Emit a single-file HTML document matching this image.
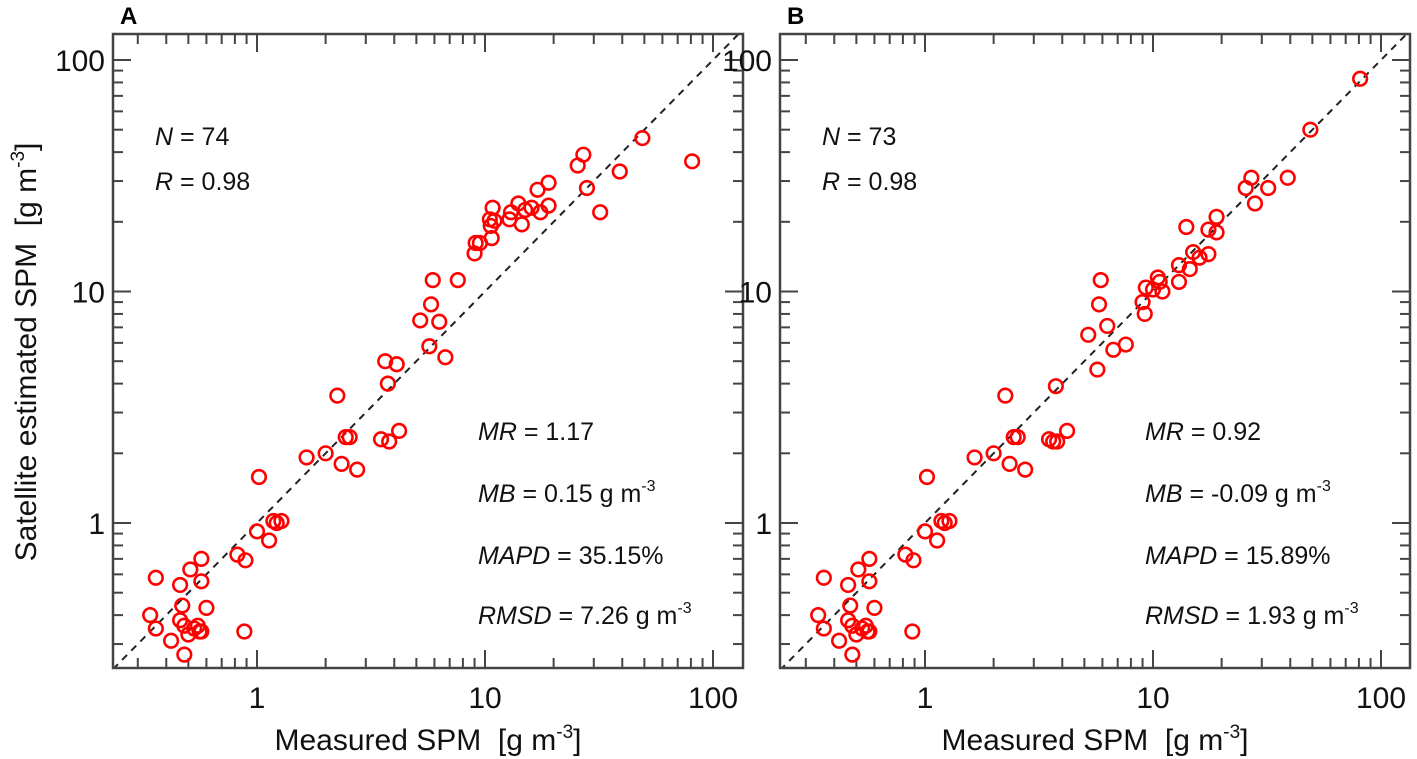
<!DOCTYPE html>
<html><head><meta charset="utf-8"><style>
body{margin:0;background:#fff;}
svg{display:block;font-family:"Liberation Sans",Arial,sans-serif;}
</style></head><body>
<svg id="chart" width="1417" height="759" viewBox="0 0 1417 759" xmlns="http://www.w3.org/2000/svg"></svg>
<script>
const aX=[0.34,0.36,0.36,0.42,0.46,0.46,0.47,0.48,0.48,0.5,0.51,0.53,0.55,0.56,0.57,0.57,0.6,0.57,0.82,0.88,0.89,1.0,1.02,1.13,1.18,1.22,1.28,
1.65,2.0,2.25,2.35,2.45,2.55,2.75,3.5,3.65,3.75,3.8,4.1,4.2,5.2,5.7,5.8,5.9,6.3,6.7,7.6,9.0,9.1,9.5,10.5,10.6,10.7,10.8,11,12.8,13,14,14.5,15,16,17,17.5,19,19,25.5,27,28,32,39,49,81];
const aY=[0.40,0.35,0.58,0.31,0.54,0.38,0.44,0.36,0.27,0.33,0.63,0.35,0.36,0.34,0.70,0.56,0.43,0.34,0.73,0.34,0.69,0.92,1.58,0.84,1.02,1.0,1.02,
1.92,2.0,3.55,1.8,2.35,2.35,1.7,2.3,5.0,4.0,2.25,4.85,2.5,7.5,5.8,8.8,11.2,7.4,5.2,11.2,14.6,16.2,16.2,20.5,19.2,17.0,23.0,20.2,20.5,22,24,19.5,22.5,23,27.5,22,23.5,29.5,35,39,28,22,33,46,36.5];
const bX=[0.34,0.36,0.36,0.42,0.46,0.46,0.47,0.48,0.48,0.5,0.51,0.53,0.55,0.56,0.57,0.57,0.6,0.57,0.82,0.88,0.89,1.0,1.02,1.13,1.18,1.22,1.28,
1.65,2.0,2.25,2.35,2.45,2.55,2.75,3.5,3.65,3.75,3.8,4.2,5.2,5.7,5.8,5.9,6.3,6.7,7.6,9.0,9.2,9.3,10,10.5,10.7,11,13,13,14,14.5,15,16,17.5,17.5,19,19,25.5,27,28,32,39,49,81];
const bY=[0.40,0.35,0.58,0.31,0.54,0.38,0.44,0.36,0.27,0.33,0.63,0.35,0.36,0.34,0.70,0.56,0.43,0.34,0.73,0.34,0.69,0.92,1.58,0.84,1.02,1.0,1.02,
1.92,2.0,3.55,1.8,2.35,2.35,1.7,2.3,2.25,3.9,2.25,2.5,6.5,4.6,8.8,11.2,7.1,5.6,5.9,9.0,8.0,10.4,10.2,11.5,11,10,11,13,19,12.5,14.8,14,18.5,14.5,21,18,28,31,24,28,31,50,83];
const majorTicks=[1,10,100];
const tickLabels=["1","10","100"];
const statsA=["= 74","= 0.98","= 1.17","= 0.15 g m","= 35.15%","= 7.26 g m"];
const statsB=["= 73","= 0.98","= 0.92","= -0.09 g m","= 15.89%","= 1.93 g m"];

const svg=document.getElementById('chart');
const NS='http://www.w3.org/2000/svg';
function mk(tag,attrs,parent){const e=document.createElementNS(NS,tag);for(const k in attrs)e.setAttribute(k,attrs[k]);(parent||svg).appendChild(e);return e;}

function panel(id,L,R,T,B,xs,ys,stats,letter,x1px,y1px,dec){
  const g=mk('g',{});
  
  
  const sx=v=>x1px+Math.log10(v)*dec;
  const sy=v=>y1px-Math.log10(v)*231.5;
  const lo=Math.pow(10,(L-x1px)/dec), hi=Math.pow(10,(R-x1px)/dec);
  const cp=mk('clipPath',{id:'clip'+id},g);mk('rect',{x:L,y:T,width:R-L,height:B-T},cp);
  const dl=mk('line',{x1:sx(lo),y1:sy(lo),x2:sx(hi),y2:sy(hi),stroke:'#222','stroke-width':2,'stroke-dasharray':'7,6','clip-path':'url(#clip'+id+')'},g);
  
  
  for(let e=-1;e<=2;e++){for(let m=1;m<=9;m++){const v=m*Math.pow(10,e);const len=m===1?18:10;
    const px=sx(v); if(px>L+1&&px<R-1){mk('line',{x1:px,y1:B,x2:px,y2:B-len,stroke:'#444','stroke-width':2},g);mk('line',{x1:px,y1:T,x2:px,y2:T+len,stroke:'#444','stroke-width':2},g);}
    const py=sy(v); if(py>T+1&&py<B-1){mk('line',{x1:L,y1:py,x2:L+len,y2:py,stroke:'#444','stroke-width':2},g);mk('line',{x1:R,y1:py,x2:R-len,y2:py,stroke:'#444','stroke-width':2},g);}
  }}
  const box=mk('rect',{x:L,y:T,width:R-L,height:B-T,fill:'none',stroke:'#444','stroke-width':2.5},g);
  
  
  majorTicks.forEach((v,i)=>{
    const t=mk('text',{x:sx(v),y:B+40,'text-anchor':'middle','font-size':30,fill:'#111'},g);t.textContent=tickLabels[i];
    
    
    const u=mk('text',{x:L-8,y:sy(v)+11,'text-anchor':'end','font-size':30,fill:'#111'},g);u.textContent=tickLabels[i];
    
    
  });
  xs.forEach((x,i)=>{
    const c=mk('circle',{cx:sx(x),cy:sy(ys[i]),r:6.8,fill:'none',stroke:'#f00','stroke-width':2.6},g);
    
    
  });
  const lt=mk('text',{x:L+7,y:24,'font-size':24,'font-weight':'bold',fill:'#000'},g);lt.textContent=letter;
  
  
  const names=['N','R','MR','MB','MAPD','RMSD'];
  const pos=[[L+42,145],[L+42,190],[L+365,440],[L+365,502],[L+365,564],[L+365,624]];
  names.forEach((n,i)=>{
    const t=mk('text',{x:pos[i][0],y:pos[i][1],'font-size':25,fill:'#111'},g);
    
    
    const a=mk('tspan',{'font-style':'italic'},t);a.textContent=n;
    const b=mk('tspan',{},t);b.textContent='\u00a0'+stats[i];
    if(i===3||i===5){const s=mk('tspan',{dy:-11,'font-size':16},t);s.textContent='-3';}
  });
  const xt=mk('text',{x:(L+R)/2,y:750,'text-anchor':'middle','font-size':30,fill:'#111'},g);
  
  
  const t1=mk('tspan',{},xt);t1.textContent='Measured SPM\u00a0\u00a0[g m';
  const t2=mk('tspan',{dy:-12,'font-size':19},xt);t2.textContent='-3';
  const t3=mk('tspan',{dy:12},xt);t3.textContent=']';
}
panel('a',113,743,34,668,aX,aY,statsA,'A',257,523,228);
panel('b',780,1410,34,668,bX,bY,statsB,'B',925,523,228);
const yt=mk('text',{x:0,y:0,'text-anchor':'middle','font-size':30,fill:'#111',transform:'translate(36,352) rotate(-90)'});


const y1=mk('tspan',{},yt);y1.textContent='Satellite estimated SPM\u00a0\u00a0[g m';
const y2=mk('tspan',{dy:-12,'font-size':19},yt);y2.textContent='-3';
const y3=mk('tspan',{dy:12},yt);y3.textContent=']';
</script>
</body></html>
